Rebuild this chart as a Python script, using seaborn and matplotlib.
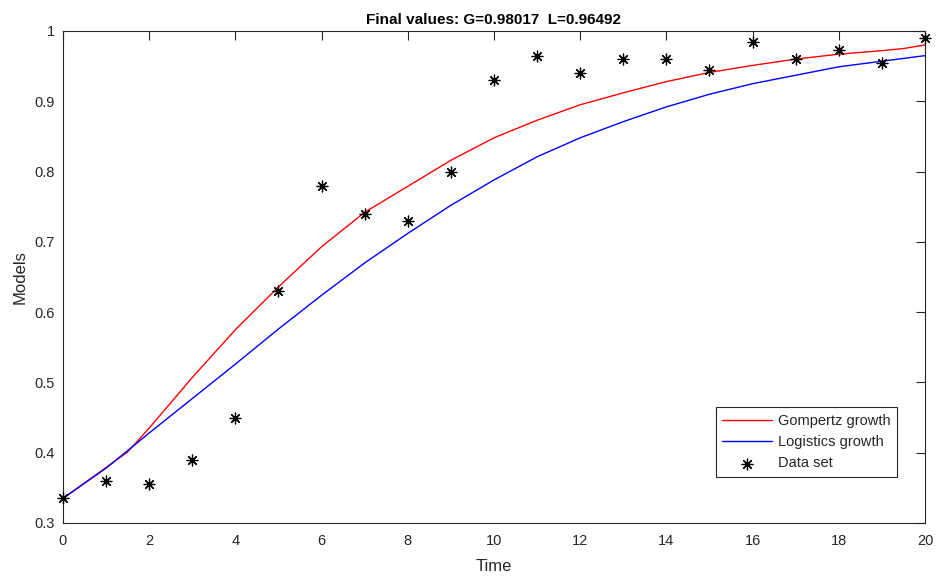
import numpy as np
import pandas as pd
import seaborn as sns
import matplotlib.pyplot as plt

# observed data
t_data = list(range(21))
y_data = [0.335, 0.36, 0.355, 0.39, 0.45, 0.63, 0.78, 0.74, 0.73, 0.80, 0.93,
          0.965, 0.94, 0.96, 0.96, 0.945, 0.985, 0.96, 0.973, 0.955, 0.99]

# model curves
t_gomp = [0, 1.5, 2, 3, 4, 5, 6, 7, 8, 9, 10, 11, 12, 13, 14, 15, 16, 17, 18, 19, 19.5, 20]
y_gomp = [0.335, 0.401, 0.435, 0.507, 0.575, 0.636, 0.693, 0.742, 0.779, 0.816, 0.848,
          0.873, 0.895, 0.912, 0.928, 0.941, 0.951, 0.960, 0.967, 0.972, 0.975, 0.98017]

t_logi = [0, 1, 1.5, 2, 3, 4, 5, 6, 7, 8, 9, 10, 11, 12, 13, 14, 15, 16, 17, 18, 19, 20]
y_logi = [0.335, 0.378, 0.403, 0.428, 0.477, 0.526, 0.576, 0.624, 0.670, 0.712, 0.752,
          0.788, 0.821, 0.848, 0.871, 0.892, 0.910, 0.925, 0.937, 0.949, 0.957, 0.96492]

sns.set_style('white')
plt.rcParams['font.family'] = ['Liberation Sans', 'DejaVu Sans']
dark = '#262626'

fig = plt.figure(figsize=(9.36, 5.78), dpi=100)
ax = fig.add_axes([0.0673, 0.0952, 0.9209, 0.8512])

sns.lineplot(x=t_gomp, y=y_gomp, color='red', lw=1.0, label='Gompertz growth', ax=ax)
sns.lineplot(x=t_logi, y=y_logi, color='blue', lw=1.0, label='Logistics growth', ax=ax)
sns.scatterplot(x=t_data, y=y_data, marker=(8, 2, 0), s=60, color='black',
                linewidth=0.9, label='Data set', ax=ax, zorder=5, clip_on=False)

ax.set_xlim(0, 20)
ax.set_ylim(0.3, 1.0)
ax.set_xticks(range(0, 21, 2))
ax.set_yticks(np.arange(0.3, 1.001, 0.1))
ax.set_yticklabels(['0.3', '0.4', '0.5', '0.6', '0.7', '0.8', '0.9', '1'])
ax.tick_params(direction='in', length=6.5, width=0.8, colors=dark, labelsize=10.5,
               top=True, right=True, labelcolor=dark)
ax.tick_params(axis='x', pad=8)
ax.tick_params(axis='y', pad=6)
for s in ax.spines.values():
    s.set_color(dark)
    s.set_linewidth(0.8)

ax.set_xlabel('Time', fontsize=12, color=dark, labelpad=8)
ax.set_ylabel('Models', fontsize=12, color=dark, labelpad=5)
ax.set_title('Final values: G=0.98017  L=0.96492', fontsize=11, fontweight='bold',
             color='black', pad=5)

leg = ax.legend(loc='lower right', bbox_to_anchor=(0.9675, 0.0935), fontsize=10.5,
                frameon=True, fancybox=False, edgecolor=dark, framealpha=1,
                handlelength=3.4, handletextpad=0.4, borderpad=0.45,
                labelspacing=0.5, borderaxespad=0)
leg.get_frame().set_linewidth(0.8)

fig.savefig('out.png', dpi=100)
